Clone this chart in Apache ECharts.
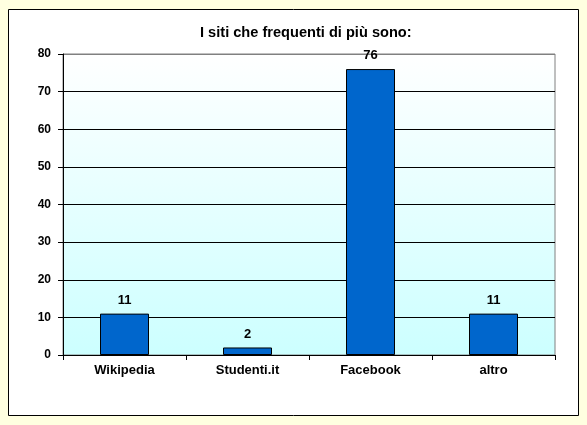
<!DOCTYPE html>
<html><head><meta charset="utf-8">
<script src="https://cdn.jsdelivr.net/npm/echarts@6/dist/echarts.min.js"></script>
<style>html,body{margin:0;padding:0;background:#FFFFE0;}#c{width:587px;height:425px;}</style>
</head><body><div id="c"></div>
<script>
const categories = ['Wikipedia', 'Studenti.it', 'Facebook', 'altro'];
const values = [11, 2, 76, 11];
const titleText = 'I siti che frequenti di più sono:';

const chart = echarts.init(document.getElementById('c'));
const font = 'Arial, "Liberation Sans", sans-serif';
chart.setOption({
  backgroundColor: '#FFFFE0',
  animation: false,
  graphic: [{
    type: 'rect', z: -10, silent: true,
    shape: {x: 8.5, y: 9.5, width: 570, height: 406},
    style: {fill: '#FFFFFF', stroke: '#000000', lineWidth: 1}
  }],
  title: {
    text: titleText, left: 195, top: 20,
    textStyle: {fontFamily: font, fontSize: 14.6, fontWeight: 'bold', color: '#000'}
  },
  grid: {
    left: 63, top: 54, right: 32, bottom: 70,
    show: true, borderColor: '#808080', borderWidth: 1,
    backgroundColor: new echarts.graphic.LinearGradient(0, 0, 0, 1, [
      {offset: 0, color: '#FFFFFF'}, {offset: 1, color: '#CCFFFF'}
    ])
  },
  xAxis: {
    type: 'category', data: categories,
    axisLine: {lineStyle: {color: '#000', width: 1}},
    axisTick: {show: true, length: 5, lineStyle: {color: '#000'}},
    axisLabel: {fontFamily: font, fontSize: 13, fontWeight: 'bold', color: '#000', margin: 9}
  },
  yAxis: {
    type: 'value', min: 0, max: 80, interval: 10,
    axisLine: {show: true, lineStyle: {color: '#000', width: 1}},
    axisTick: {show: true, length: 5, lineStyle: {color: '#000'}},
    axisLabel: {fontFamily: font, fontSize: 12, fontWeight: 'bold', color: '#000', margin: 12},
    splitLine: {show: true, lineStyle: {color: ['#000','#000','#000','#000','#000','#000','#000','#000','#808080'], width: 1}}
  },
  series: [{
    type: 'bar', data: values, barWidth: 49,
    itemStyle: {color: '#0066CC', borderColor: '#000', borderWidth: 1},
    label: {show: true, position: 'top', distance: 7, fontFamily: font, fontSize: 13, fontWeight: 'bold', color: '#000'}
  }]
});
</script></body></html>
